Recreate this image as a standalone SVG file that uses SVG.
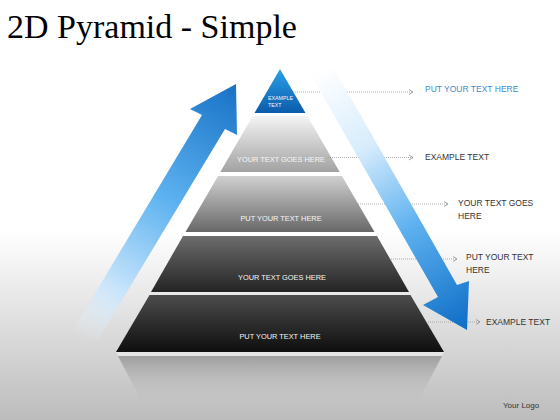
<svg xmlns="http://www.w3.org/2000/svg" width="560" height="420" viewBox="0 0 560 420">
  <defs>
    <style>
      .title { font-family: "Liberation Serif", "Times New Roman", serif; font-size: 34px; fill: #000; }
      .lvl { font-family: "Liberation Sans", Arial, sans-serif; font-size: 7.4px; fill: #f6f6f6; text-anchor: middle; }
      .lbl { font-family: "Liberation Sans", Arial, sans-serif; font-size: 8.5px; fill: #333; }
      .lblblue { fill: #3f8cc6; }
      .conn { stroke: #9a9a9a; stroke-width: 0.8; stroke-dasharray: 1 1; fill: none; marker-end: url(#chev); }
      .logo { font-family: "Liberation Sans", Arial, sans-serif; font-size: 8px; fill: #333; }
    </style>
    <marker id="chev" markerUnits="userSpaceOnUse" markerWidth="8" markerHeight="8" refX="6" refY="4" orient="auto">
      <path d="M2,1.5 L6,4 L2,6.5" fill="none" stroke="#8a8a8a" stroke-width="0.8"/>
    </marker>
    <linearGradient id="bg" x1="0" y1="0" x2="0" y2="1">
      <stop offset="0" stop-color="#ffffff"/>
      <stop offset="0.55" stop-color="#ffffff"/>
      <stop offset="1" stop-color="#bcbcbc"/>
    </linearGradient>
    <linearGradient id="g1" x1="0" y1="0" x2="0" y2="1">
      <stop offset="0" stop-color="#2aa0e8"/>
      <stop offset="1" stop-color="#0b5cab"/>
    </linearGradient>
    <linearGradient id="g2" x1="0" y1="0" x2="0" y2="1">
      <stop offset="0" stop-color="#f4f4f4"/>
      <stop offset="1" stop-color="#a2a2a2"/>
    </linearGradient>
    <linearGradient id="g3" x1="0" y1="0" x2="0" y2="1">
      <stop offset="0" stop-color="#d0d0d0"/>
      <stop offset="1" stop-color="#686868"/>
    </linearGradient>
    <linearGradient id="g4" x1="0" y1="0" x2="0" y2="1">
      <stop offset="0" stop-color="#6c6c6c"/>
      <stop offset="1" stop-color="#242424"/>
    </linearGradient>
    <linearGradient id="g5" x1="0" y1="0" x2="0" y2="1">
      <stop offset="0" stop-color="#4c4c4c"/>
      <stop offset="1" stop-color="#0e0e0e"/>
    </linearGradient>
    <linearGradient id="refl" x1="0" y1="0" x2="0" y2="1">
      <stop offset="0" stop-color="#8c8c8c" stop-opacity="0.75"/>
      <stop offset="1" stop-color="#bcbcbc" stop-opacity="0"/>
    </linearGradient>
    <linearGradient id="upA" gradientUnits="userSpaceOnUse" x1="82" y1="338" x2="236" y2="86">
      <stop offset="0" stop-color="#e6f3fd" stop-opacity="0"/>
      <stop offset="0.2" stop-color="#c9e5fb"/>
      <stop offset="0.55" stop-color="#5db2f0"/>
      <stop offset="1" stop-color="#1872c6"/>
    </linearGradient>
    <linearGradient id="dnA" gradientUnits="userSpaceOnUse" x1="318" y1="72" x2="467" y2="330">
      <stop offset="0" stop-color="#ffffff"/>
      <stop offset="0.3" stop-color="#d7ecfc"/>
      <stop offset="0.6" stop-color="#5fb2f0"/>
      <stop offset="1" stop-color="#0c6cc6"/>
    </linearGradient>
  </defs>

  <rect x="0" y="0" width="560" height="420" fill="url(#bg)"/>

  <text class="title" x="7" y="38">2D Pyramid - Simple</text>

  <g id="arrow-up">
    <polygon points="236,84 237,135 225,129 98,340 67,340 202,115 190,109" fill="url(#upA)"/>
  </g>

  <g id="reflection">
    <polygon points="116,352 444,352 442,356 118,356" fill="#e4e4e4"/>
    <polygon points="118,356 442,356 418,402 142,402" fill="url(#refl)"/>
  </g>

  <g id="level-1">
    <polygon points="280,69 305.5,113 254.5,113" fill="url(#g1)"/>
    <text class="lvl" style="text-anchor:start;font-size:5.3px" x="268" y="100">EXAMPLE</text>
    <text class="lvl" style="text-anchor:start;font-size:5.3px" x="268" y="107">TEXT</text>
  </g>
  <g id="level-2">
    <polygon points="252.7,116 307.3,116 339.7,172 220.3,172" fill="url(#g2)"/>
    <text class="lvl" x="281" y="161.5">YOUR TEXT GOES HERE</text>
  </g>
  <g id="level-3">
    <polygon points="218,176 342,176 374.5,232 185.5,232" fill="url(#g3)"/>
    <text class="lvl" x="281" y="220.5">PUT YOUR TEXT HERE</text>
  </g>
  <g id="level-4">
    <polygon points="183,236 377,236 409,292 151,292" fill="url(#g4)"/>
    <text class="lvl" x="282" y="279.5">YOUR TEXT GOES HERE</text>
  </g>
  <g id="level-5">
    <polygon points="149.5,295 410.5,295 444,352 116,352" fill="url(#g5)"/>
    <text class="lvl" x="280" y="338.5">PUT YOUR TEXT HERE</text>
  </g>

  <g id="connectors">
    <line class="conn" x1="293" y1="92" x2="413" y2="92"/>
    <line class="conn" x1="328" y1="157.5" x2="413" y2="157.5"/>
    <line class="conn" x1="358" y1="204" x2="448" y2="204"/>
    <line class="conn" x1="391" y1="259" x2="457" y2="259"/>
    <line class="conn" x1="428" y1="322" x2="480" y2="322"/>
  </g>

  <g id="arrow-down">
    <polygon points="308,70 335,70 457,285 469,281 467,330 423,305 438,297" fill="url(#dnA)"/>
  </g>

  <g id="label-1">
    <text class="lbl lblblue" x="425" y="92">PUT YOUR TEXT HERE</text>
  </g>
  <g id="label-2">
    <text class="lbl" x="425" y="160">EXAMPLE TEXT</text>
  </g>
  <g id="label-3">
    <text class="lbl" x="458" y="206">YOUR TEXT GOES</text>
    <text class="lbl" x="458" y="219">HERE</text>
  </g>
  <g id="label-4">
    <text class="lbl" x="466" y="260">PUT YOUR TEXT</text>
    <text class="lbl" x="466" y="273">HERE</text>
  </g>
  <g id="label-5">
    <text class="lbl" x="486" y="324.5">EXAMPLE TEXT</text>
  </g>

  <text class="logo" x="503" y="408">Your Logo</text>
</svg>
